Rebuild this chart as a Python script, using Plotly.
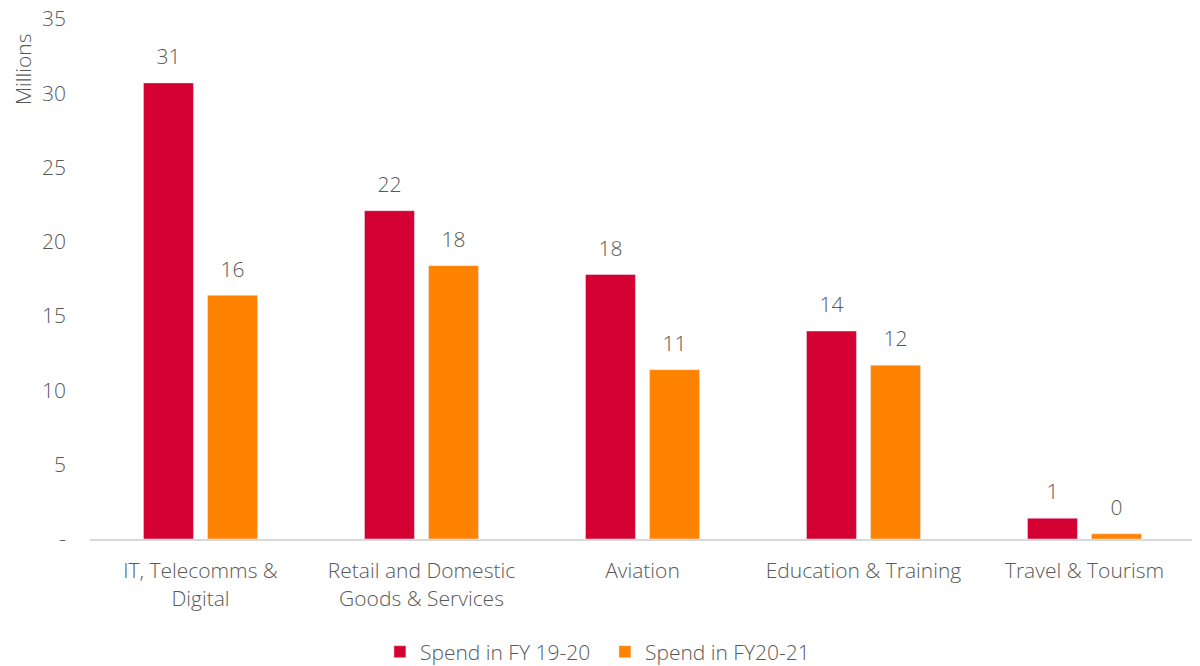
import plotly.graph_objects as go

# ---- data ----
categories = ["IT, Telecomms &<br>Digital", "Retail and Domestic<br>Goods & Services",
              "Aviation", "Education & Training", "Travel & Tourism"]
spend_fy1920 = [30.7, 22.1, 17.8, 14.0, 1.4]
spend_fy2021 = [16.4, 18.4, 11.4, 11.7, 0.35]
tick_vals = [0, 5, 10, 15, 20, 25, 30, 35]
tick_text = ["-", "5", "10", "15", "20", "25", "30", "35"]

FONT = "Open Sans"
GREY = "#595959"
SIZE = 21

fig = go.Figure()
for vals, name, col, grp in [(spend_fy1920, "Spend in FY 19-20", "#D50032", "a"),
                             (spend_fy2021, "Spend in FY20-21", "#FF8200", "b")]:
    fig.add_trace(go.Bar(x=categories, y=vals, name=name, marker_color=col,
                         offsetgroup=grp))
    # value labels, sitting a little above each bar
    fig.add_trace(go.Scatter(x=categories, y=vals, mode="markers+text", offsetgroup=grp,
                             text=[f"{v:.0f}" for v in vals], textposition="top center",
                             marker=dict(size=20, opacity=0), showlegend=False,
                             cliponaxis=False, hoverinfo="skip",
                             textfont=dict(size=SIZE, color=GREY, family=FONT)))

# page body has an 8px margin, so margins are trimmed to match
fig.update_layout(
    width=1200, height=666,
    plot_bgcolor="white", paper_bgcolor="white",
    font=dict(family=FONT, size=SIZE, color=GREY, weight=300),
    margin=dict(l=82, r=13, t=11, b=135, autoexpand=False),
    barmode="group", bargap=0.42, bargroupgap=0.22,
    scattermode="group", scattergap=0.42,
    showlegend=True,
    legend=dict(orientation="h", x=0.466, xanchor="center", y=-0.178, yanchor="top",
                font=dict(size=SIZE, color=GREY), itemwidth=30, entrywidth=180,
                traceorder="normal"),
)
fig.update_xaxes(showline=True, linecolor="#D9D9D9", linewidth=2, ticks="",
                 automargin=False, ticklabelstandoff=12,
                 tickfont=dict(size=SIZE, color=GREY))
fig.update_yaxes(range=[0, 35], tickvals=tick_vals, ticktext=tick_text, showgrid=False,
                 zeroline=False, showline=False, ticks="", ticklabelstandoff=23,
                 automargin=False, ticklabeloverflow="allow",
                 tickfont=dict(size=SIZE, color=GREY))
fig.add_annotation(text="Millions", xref="paper", yref="y", x=-0.061, y=31.6,
                   textangle=-90, showarrow=False, xanchor="center", yanchor="middle",
                   font=dict(size=SIZE, color=GREY))

fig.write_html("out.html")
